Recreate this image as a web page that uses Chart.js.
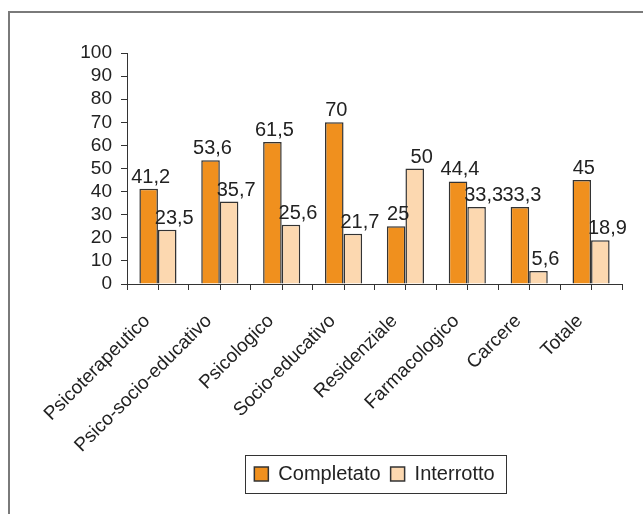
<!DOCTYPE html>
<html>
<head>
<meta charset="utf-8">
<script src="https://cdn.jsdelivr.net/npm/chart.js@4"></script>
<style>
  body { margin: 0; background: #fff; overflow: hidden; }
  #frame {
    position: absolute; left: 8px; top: 11px;
    width: 700px; height: 600px;
    border: 2px solid #7a7a7a;
  }
  #myCanvas { position: absolute; left: 0; top: 0; }
</style>
</head>
<body>
<div id="frame"></div>
<canvas id="myCanvas" width="643" height="514"></canvas>
<script>
const categories = [
  "Psicoterapeutico",
  "Psico-socio-educativo",
  "Psicologico",
  "Socio-educativo",
  "Residenziale",
  "Farmacologico",
  "Carcere",
  "Totale",
];
const completato = [41.2, 53.6, 61.5, 70, 25, 44.4, 33.3, 45];
const interrotto = [23.5, 35.7, 25.6, 21.7, 50, 33.3, 5.6, 18.9];
const seriesNames = ["Completato", "Interrotto"];
const yTicks = [0, 10, 20, 30, 40, 50, 60, 70, 80, 90, 100];

const FONT = "'Liberation Sans', Arial, sans-serif";
const TEXT = "#222";
const LINE = "#333";

// value labels above each bar, comma as decimal separator
const barLabels = {
  id: "barLabels",
  afterDatasetsDraw(chart) {
    const ctx = chart.ctx;
    ctx.save();
    ctx.font = "20px " + FONT;
    ctx.fillStyle = TEXT;
    ctx.textAlign = "center";
    ctx.textBaseline = "alphabetic";
    chart.data.datasets.forEach((ds, di) => {
      const shift = di === 0 ? 2 : 7;
      chart.getDatasetMeta(di).data.forEach((bar, i) => {
        const txt = String(ds.data[i]).replace(".", ",");
        ctx.fillText(txt, bar.x + shift, bar.y - 6);
      });
    });
    ctx.restore();
  },
};

// extra tick marks at category centres + frame round the legend
const extras = {
  id: "extras",
  afterDraw(chart) {
    const ctx = chart.ctx;
    const x = chart.scales.x;
    ctx.save();
    ctx.strokeStyle = LINE;
    ctx.lineWidth = 1;
    categories.forEach((c, i) => {
      const px = Math.round(x.getPixelForValue(i)) + 0.5;
      ctx.beginPath();
      ctx.moveTo(px, x.top);
      ctx.lineTo(px, x.top + 6);
      ctx.stroke();
    });
    const boxes = chart.legend.legendHitBoxes;
    if (boxes && boxes.length) {
      const left = Math.min(...boxes.map((b) => b.left)) - 9;
      const right = Math.max(...boxes.map((b) => b.left + b.width)) + 12;
      const mid = boxes[0].top + boxes[0].height / 2;
      ctx.strokeRect(Math.round(left) + 0.5, Math.round(mid - 19) + 0.5,
        Math.round(right - left), 38);
    }
    ctx.restore();
  },
};

const ctx = document.getElementById("myCanvas").getContext("2d");
new Chart(ctx, {
  type: "bar",
  data: {
    labels: categories,
    datasets: [
      {
        label: seriesNames[0],
        data: completato,
        backgroundColor: "#F0901E",
        borderColor: LINE,
        borderWidth: 1.5,
      },
      {
        label: seriesNames[1],
        data: interrotto,
        backgroundColor: "#FCD8B0",
        borderColor: LINE,
        borderWidth: 1.5,
      },
    ],
  },
  options: {
    responsive: false,
    animation: false,
    layout: { padding: { left: 0, right: 21, top: 53, bottom: 20 } },
    datasets: { bar: { categoryPercentage: 0.6, barPercentage: 1 } },
    plugins: {
      tooltip: { enabled: false },
      legend: {
        position: "bottom",
        fullSize: false,
        labels: {
          color: TEXT,
          font: { family: FONT, size: 20 },
          boxWidth: 14,
          boxHeight: 14,
          padding: 10,
        },
      },
    },
    scales: {
      x: {
        grid: { drawOnChartArea: false, tickLength: 6, color: LINE, offset: true },
        border: { color: LINE, width: 1 },
        ticks: {
          color: TEXT,
          font: { family: FONT, size: 19 },
          minRotation: 45,
          maxRotation: 45,
          padding: 20,
          labelOffset: -11,
        },
        afterFit: (s) => { s.height = 170; },
      },
      y: {
        min: 0,
        max: 100,
        afterBuildTicks: (s) => { s.ticks = yTicks.map((v) => ({ value: v })); },
        grid: { drawOnChartArea: false, tickLength: 6, color: LINE },
        border: { color: LINE, width: 1 },
        ticks: {
          color: TEXT,
          font: { family: FONT, size: 19 },
          padding: 9,
          autoSkip: false,
        },
        afterFit: (s) => { s.width = 127; },
      },
    },
  },
  plugins: [barLabels, extras],
});
</script>
</body>
</html>
